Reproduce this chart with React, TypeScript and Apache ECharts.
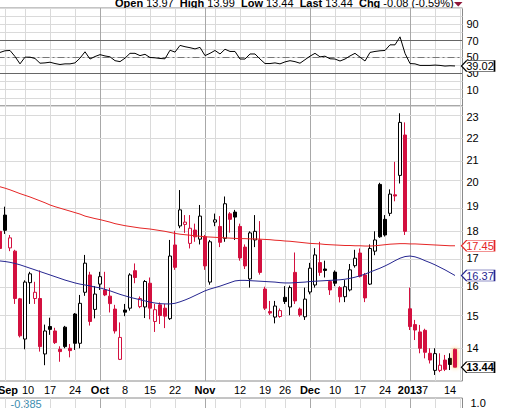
import React, { useEffect, useRef } from 'react';
import * as echarts from 'echarts';

// ---------- data ----------
const days = [
  '2012-08-31',
  '2012-09-04', '2012-09-05', '2012-09-06', '2012-09-07',
  '2012-09-10', '2012-09-11', '2012-09-12', '2012-09-13', '2012-09-14',
  '2012-09-17', '2012-09-18', '2012-09-19', '2012-09-20', '2012-09-21',
  '2012-09-24', '2012-09-25', '2012-09-26', '2012-09-27', '2012-09-28',
  '2012-10-01', '2012-10-02', '2012-10-03', '2012-10-04', '2012-10-05',
  '2012-10-08', '2012-10-09', '2012-10-10', '2012-10-11', '2012-10-12',
  '2012-10-15', '2012-10-16', '2012-10-17', '2012-10-18', '2012-10-19',
  '2012-10-22', '2012-10-23', '2012-10-24', '2012-10-25', '2012-10-26',
  '2012-10-31', '2012-11-01', '2012-11-02',
  '2012-11-05', '2012-11-06', '2012-11-07', '2012-11-08', '2012-11-09',
  '2012-11-12', '2012-11-13', '2012-11-14', '2012-11-15', '2012-11-16',
  '2012-11-19', '2012-11-20', '2012-11-21', '2012-11-23',
  '2012-11-26', '2012-11-27', '2012-11-28', '2012-11-29', '2012-11-30',
  '2012-12-03', '2012-12-04', '2012-12-05', '2012-12-06', '2012-12-07',
  '2012-12-10', '2012-12-11', '2012-12-12', '2012-12-13', '2012-12-14',
  '2012-12-17', '2012-12-18', '2012-12-19', '2012-12-20', '2012-12-21',
  '2012-12-24', '2012-12-26', '2012-12-27', '2012-12-28', '2012-12-31',
  '2013-01-02', '2013-01-03', '2013-01-04',
  '2013-01-07', '2013-01-08', '2013-01-09', '2013-01-10', '2013-01-11',
  '2013-01-14', '2013-01-15',
];
const nextDay = '2013-01-16';

const opens = [
  18.0, 18.64, 17.37, 17.25, 15.57, 14.28, 16.12, 15.58, 15.58, 13.83,
  14.67, 14.53, 13.97, 14.65, 14.0, 15.07, 14.15, 15.79, 16.39, 15.22,
  16.07, 15.87, 15.66, 15.23, 13.67, 15.2, 15.26, 16.54, 15.31, 15.3,
  16.1, 14.83, 15.37, 15.26, 14.92, 17.48, 18.21, 18.27, 17.54, 18.05,
  17.7, 17.79, 16.14, 18.36, 18.19, 17.73, 18.69, 18.76, 18.19, 17.4,
  16.25, 17.67, 17.67, 15.9, 15.15, 14.97, 14.99, 15.62, 15.3, 16.48,
  15.23, 14.98, 15.8, 16.04, 16.83, 16.6, 16.16, 16.49, 15.95, 15.64,
  15.87, 16.72, 17.18, 16.39, 16.07, 17.25, 19.91, 18.47, 18.71, 19.47,
  20.3, 22.14, 15.24, 14.73, 14.5, 14.55, 13.85, 13.35, 13.35, 13.65,
  13.7, 13.97,
];
const highs = [
  18.05, 18.98, 17.86, 17.3, 15.6, 16.2, 16.5, 16.15, 16.55, 14.73,
  14.95, 14.63, 14.06, 14.69, 14.13, 15.1, 15.7, 17.11, 16.5, 16.0,
  16.5, 16.5, 15.94, 15.37, 14.8, 15.4, 16.45, 16.8, 15.65, 16.21,
  16.3, 15.4, 15.45, 15.4, 17.67, 18.02, 19.67, 18.64, 18.64, 18.3,
  19.05, 17.86, 17.67, 18.7, 18.6, 19.4, 18.76, 18.85, 18.3, 17.5,
  18.0, 18.64, 18.4, 15.98, 15.5, 15.5, 15.25, 16.0, 16.02, 17.2,
  15.28, 15.95, 16.82, 17.36, 17.6, 16.9, 16.2, 16.55, 16.0, 16.21,
  16.78, 17.3, 17.35, 16.46, 17.5, 18.0, 19.98, 18.64, 19.7, 20.9,
  23.2, 22.75, 15.95, 14.88, 14.72, 14.6, 14.0, 14.0, 13.85, 13.8,
  13.85, 13.99,
];
const lows = [
  16.9, 17.9, 17.25, 15.4, 14.33, 13.97, 15.4, 15.4, 13.9, 13.5,
  14.41, 14.13, 13.6, 14.0, 13.73, 13.95, 14.0, 15.67, 14.7, 14.93,
  15.87, 15.66, 15.12, 14.45, 13.65, 15.0, 15.18, 16.1, 15.26, 14.94,
  14.9, 14.5, 14.75, 14.62, 14.88, 16.57, 18.12, 17.94, 17.35, 17.6,
  17.5, 16.57, 16.05, 18.2, 17.4, 17.6, 17.95, 17.67, 16.9, 16.6,
  15.95, 17.4, 16.4, 15.2, 15.04, 14.77, 14.95, 15.4, 15.03, 15.4,
  14.98, 14.88, 15.72, 15.95, 16.36, 16.3, 15.7, 16.0, 15.45, 15.46,
  15.82, 16.65, 16.3, 15.46, 16.04, 17.1, 17.75, 17.8, 18.6, 19.2,
  19.95, 17.86, 14.56, 14.25, 13.85, 13.7, 13.55, 13.22, 13.3, 13.33,
  13.36, 13.44,
];
const closes = [
  17.35, 18.04, 17.75, 15.58, 14.38, 16.14, 16.43, 15.79, 14.05, 14.53,
  14.58, 14.17, 13.9, 14.05, 13.93, 14.15, 15.42, 16.81, 14.83, 15.73,
  16.33, 15.7, 15.41, 14.53, 14.33, 15.13, 16.39, 16.3, 15.58, 16.16,
  15.26, 15.21, 15.02, 15.0, 17.07, 16.66, 18.85, 18.36, 18.12, 17.79,
  18.6, 16.71, 17.6, 18.45, 17.58, 19.1, 18.47, 18.56, 17.0, 16.71,
  17.94, 18.0, 16.48, 15.26, 15.1, 15.33, 15.18, 15.48, 15.95, 15.5,
  15.04, 15.56, 16.63, 17.11, 16.48, 16.55, 15.87, 16.1, 15.64, 15.98,
  16.57, 16.99, 16.34, 15.6, 17.35, 17.67, 17.79, 17.86, 19.5, 19.42,
  22.75, 18.0, 14.67, 14.56, 14.0, 13.88, 13.65, 13.84, 13.5, 13.38,
  13.52, 13.44,
];
const closeBeforeFirst = 17.9;

const ma200 = [
  19.81, 19.75, 19.68, 19.6, 19.52, 19.45, 19.38, 19.3, 19.22, 19.14,
  19.05, 18.98, 18.92, 18.86, 18.8, 18.74, 18.68, 18.6, 18.55, 18.5,
  18.46, 18.41, 18.36, 18.3, 18.26, 18.22, 18.19, 18.16, 18.13, 18.11,
  18.09, 18.06, 18.03, 18.0, 17.96, 17.92, 17.89, 17.87, 17.85, 17.83,
  17.81, 17.79, 17.78, 17.77, 17.76, 17.75, 17.74, 17.73, 17.72, 17.72,
  17.71, 17.71, 17.7, 17.69, 17.68, 17.66, 17.65, 17.63, 17.62, 17.6,
  17.58, 17.56, 17.54, 17.53, 17.52, 17.5, 17.49, 17.48, 17.47, 17.46,
  17.46, 17.45, 17.45, 17.44, 17.44, 17.45, 17.47, 17.49, 17.51, 17.52,
  17.53, 17.53, 17.52, 17.52, 17.51, 17.5, 17.49, 17.48, 17.47, 17.46,
  17.45, 17.45,
];
const ma50 = [
  16.89, 16.87, 16.84, 16.8, 16.75, 16.69, 16.63, 16.57, 16.51, 16.45,
  16.39, 16.33, 16.27, 16.21, 16.16, 16.11, 16.07, 16.04, 16.01, 15.97,
  15.94, 15.89, 15.84, 15.78, 15.72, 15.67, 15.62, 15.58, 15.54, 15.5,
  15.46, 15.43, 15.41, 15.4, 15.4, 15.42, 15.47, 15.53, 15.6, 15.68,
  15.76, 15.84, 15.9, 15.95, 16.0, 16.06, 16.12, 16.18, 16.2, 16.2,
  16.19, 16.18, 16.17, 16.16, 16.15, 16.14, 16.12, 16.11, 16.11, 16.12,
  16.13, 16.14, 16.16, 16.17, 16.18, 16.19, 16.2, 16.21, 16.22, 16.24,
  16.27, 16.31, 16.36, 16.42, 16.49, 16.56, 16.63, 16.71, 16.8, 16.9,
  16.99, 17.05, 17.07, 17.04, 16.98, 16.9, 16.83, 16.75, 16.66, 16.57,
  16.47, 16.37,
];
const rsi = [
  55.6, 57.6, 58.0, 50.6, 41.6, 49.8, 49.8, 48.2, 42.4, 42.8,
  43.6, 42.0, 40.8, 41.6, 41.6, 42.8, 48.6, 56.4, 47.5, 50.6,
  52.9, 51.3, 50.2, 45.5, 44.3, 48.6, 54.5, 54.5, 51.7, 53.3,
  49.4, 49.0, 48.2, 47.8, 58.3, 56.0, 64.2, 62.6, 61.4, 59.9,
  61.8, 51.7, 54.5, 58.0, 53.7, 59.5, 56.8, 56.8, 47.5, 47.5,
  53.7, 53.7, 47.5, 42.0, 42.0, 42.8, 41.6, 44.0, 45.5, 44.3,
  42.4, 46.7, 51.0, 54.5, 50.2, 51.0, 47.8, 47.5, 45.1, 47.5,
  51.3, 54.5, 49.8, 45.1, 55.6, 56.8, 57.6, 58.0, 64.9, 64.9,
  74.7, 54.5, 42.0, 41.6, 39.7, 39.7, 39.7, 40.1, 39.7, 38.9,
  39.3, 39.02,
];

const xTickDays = [
  '2012-09-04', '2012-09-10', '2012-09-17', '2012-09-24', '2012-10-01', '2012-10-08',
  '2012-10-15', '2012-10-22', '2012-11-01', '2012-11-12', '2012-11-19', '2012-11-26',
  '2012-12-03', '2012-12-10', '2012-12-17', '2012-12-24', '2013-01-02', '2013-01-07',
  '2013-01-14',
];
const xTickTexts = [
  'Sep', '10', '17', '24', 'Oct', '8', '15', '22', 'Nov', '12', '19', '26',
  'Dec', '10', '17', '24', '2013', '7', '14',
];
const boldTickTexts = ['Sep', 'Oct', 'Nov', 'Dec', '2013'];
const xGridDays = [
  '2012-09-04', '2012-09-10', '2012-09-17', '2012-09-24', '2012-10-01', '2012-10-08',
  '2012-10-15', '2012-10-22', '2012-11-01', '2012-11-05', '2012-11-12', '2012-11-19',
  '2012-11-26', '2012-12-03', '2012-12-10', '2012-12-17', '2012-12-24', '2013-01-02',
  '2013-01-09', '2013-01-16',
];
const monthStartDays = ['2012-10-01', '2012-11-01', '2012-12-03', '2013-01-02'];
const priceTicks = [14, 15, 16, 17, 18, 19, 20, 21, 22, 23];
const rsiTicks = [10, 30, 50, 70, 90];
const rsiLevels = [70, 50, 30];
const lowerTicks = [1.0];
const lowerLegendValue = -0.385;

// ---------- styles ----------
const FONT = '"Liberation Sans", Arial, Helvetica, sans-serif';
const CANDLE_RED = '#d3103f';
const MA_RED = '#e52626';
const MA_BLUE = '#262690';
const GRID_LIGHT = '#dadada';
const GRID_DARK = '#a8a8a8';
const BORDER = '#8a8a8a';
const TAG_PATH = 'path://M0,5L5,0L32,0L32,10L5,10Z';

export default function App() {
  const ref = useRef<HTMLDivElement>(null);

  useEffect(() => {
    if (!ref.current) return;
    const chart = echarts.init(ref.current, null, { renderer: 'svg' });
    const ln = Math.log;
    const n = days.length;
    const cats = [...days, nextDay];
    const idx = (d: string) => cats.indexOf(d);

    const labelByIdx: Record<number, string> = {};
    xTickDays.forEach((d, i) => { labelByIdx[idx(d)] = xTickTexts[i]; });
    const firstTwoIdx = [idx(xTickDays[0]), idx(xTickDays[1])];
    const monthIdx = monthStartDays.map(idx);

    const candleData = days.map((_, i) => {
      const o = opens[i];
      const c = closes[i];
      const pc = i === 0 ? closeBeforeFirst : closes[i - 1];
      const col = c >= pc ? '#000000' : CANDLE_RED;
      const fill = c > o ? '#ffffff' : col;
      const itemStyle: any = { color: fill, color0: fill, borderColor: col, borderColor0: col, borderWidth: 1 };
      if (i === n - 1) {
        itemStyle.shadowBlur = 4;
        itemStyle.shadowColor = 'rgba(255,175,50,0.95)';
      }
      return { value: [ln(o), ln(c), ln(lows[i]), ln(highs[i])], itemStyle };
    });

    const vLines = xGridDays.map((d) => {
      const k = idx(d);
      return { xAxis: k, lineStyle: { color: monthIdx.includes(k) ? GRID_DARK : GRID_LIGHT, width: 1, type: 'solid' } };
    });
    const baseMarkLine = {
      silent: true,
      symbol: ['none', 'none'],
      label: { show: false },
      z: 1,
      animation: false,
      emphasis: { disabled: true },
    };

    const priceMin = ln(13.049);
    const priceMax = ln(23.565);
    const gridBase = {
      left: -2.5,
      width: 465,
      show: true,
      borderColor: BORDER,
      borderWidth: 1,
      backgroundColor: 'transparent',
      containLabel: false,
      outerBoundsMode: 'none',
    };

    const tag = (value: number, yVal: number, color: string, bold: boolean) => ({
      symbol: TAG_PATH,
      symbolSize: [33, 11],
      symbolOffset: [23, 0],
      silent: true,
      animation: false,
      itemStyle: { color: '#ffffff', borderColor: color, borderWidth: 1 },
      label: {
        show: true,
        position: 'inside',
        offset: [2, 0],
        color,
        fontSize: 11,
        fontWeight: bold ? 'bold' : 'normal',
        fontFamily: FONT,
        formatter: value.toFixed(2),
      },
      data: [{ coord: [n - 1, yVal] }],
    });

    const chg = closes[n - 1] - closes[n - 2];
    const chgPct = (chg / closes[n - 2]) * 100;
    const headerText =
      `{b|Open} ${opens[n - 1].toFixed(2)}  {b|High} ${highs[n - 1].toFixed(2)}  ` +
      `{b|Low} ${lows[n - 1].toFixed(2)}  {b|Last} ${closes[n - 1].toFixed(2)}  ` +
      `{b|Chg} ${chg.toFixed(2)} (${chgPct.toFixed(2)}%)`;

    const lbl = { fontSize: 11, fontFamily: FONT, color: '#000' };
    const hiddenCat = (gridIndex: number, showLabels: boolean) => ({
      type: 'category',
      gridIndex,
      data: cats,
      boundaryGap: true,
      axisLine: { show: false },
      axisTick: { show: false },
      splitLine: { show: false },
      axisLabel: showLabels
        ? {
            show: true,
            interval: 0,
            margin: 3,
            ...lbl,
            hideOverlap: false,
            formatter: (_v: string, i: number) => {
              const t = labelByIdx[i];
              if (!t) return '';
              const bold = boldTickTexts.includes(t);
              const shifted = firstTwoIdx.includes(i);
              const key = (bold ? 'b' : 'n') + (shifted ? 's' : '');
              return `{${key}|${t}}`;
            },
            rich: {
              b: { ...lbl, fontWeight: 'bold' },
              n: { ...lbl },
              bs: { ...lbl, fontWeight: 'bold', padding: [0, 0, 0, 6] },
              ns: { ...lbl, padding: [0, 0, 0, 6] },
            },
          }
        : { show: false },
    });

    const option: any = {
      animation: false,
      backgroundColor: '#ffffff',
      textStyle: { fontFamily: FONT },
      grid: [
        { ...gridBase, top: 8, height: 98 },
        { ...gridBase, top: 106, height: 275 },
        { ...gridBase, top: 398, height: 60 },
      ],
      xAxis: [hiddenCat(0, false), hiddenCat(1, true), hiddenCat(2, false)],
      yAxis: [
        {
          type: 'value', gridIndex: 0, position: 'right', min: -10, max: 110, interval: 10,
          axisLine: { show: false }, axisTick: { show: false },
          splitLine: { show: true, lineStyle: { color: GRID_LIGHT, width: 1 } },
          axisLabel: {
            margin: 4, ...lbl,
            formatter: (v: number) => (rsiTicks.includes(Math.round(v)) ? String(Math.round(v)) : ''),
          },
        },
        {
          type: 'value', gridIndex: 1, position: 'right', min: priceMin, max: priceMax,
          axisLine: { show: false }, axisTick: { show: false }, splitLine: { show: false },
          axisLabel: {
            margin: 4, ...lbl,
            customValues: priceTicks.map(ln),
            formatter: (v: number) => String(Math.round(Math.exp(v))),
          },
        },
        {
          type: 'value', gridIndex: 2, position: 'right', min: 0, max: 1.1, interval: 0.5,
          axisLine: { show: false }, axisTick: { show: false }, splitLine: { show: false },
          axisLabel: {
            margin: 8, ...lbl,
            formatter: (v: number) => (lowerTicks.some((t) => Math.abs(t - v) < 1e-9) ? v.toFixed(1) : ''),
          },
        },
      ],
      series: [
        {
          name: 'RSI',
          type: 'line',
          xAxisIndex: 0, yAxisIndex: 0,
          data: rsi,
          symbol: 'none',
          z: 3,
          lineStyle: { color: '#000', width: 1 },
          markLine: {
            ...baseMarkLine,
            data: [
              ...vLines,
              ...rsiLevels.map((v) => ({
                yAxis: v,
                lineStyle: v === 50
                  ? { color: '#777', width: 1, type: [7, 3, 2, 3] }
                  : { color: '#666', width: 1, type: 'solid' },
              })),
            ],
          },
          markPoint: tag(rsi[n - 1], rsi[n - 1], '#000', false),
        },
        {
          name: 'Price',
          type: 'candlestick',
          xAxisIndex: 1, yAxisIndex: 1,
          barWidth: 4,
          z: 2,
          data: candleData,
          markPoint: tag(closes[n - 1], ln(closes[n - 1]), '#000', true),
        },
        {
          name: 'MA long',
          type: 'line',
          xAxisIndex: 1, yAxisIndex: 1,
          data: ma200.map(ln),
          symbol: 'none',
          z: 3,
          lineStyle: { color: MA_RED, width: 1 },
          markLine: {
            ...baseMarkLine,
            data: [
              ...vLines,
              ...priceTicks.map((p) => ({ yAxis: ln(p), lineStyle: { color: GRID_LIGHT, width: 1, type: 'solid' } })),
            ],
          },
          markPoint: tag(ma200[n - 1], ln(ma200[n - 1]), MA_RED, false),
        },
        {
          name: 'MA short',
          type: 'line',
          xAxisIndex: 1, yAxisIndex: 1,
          data: ma50.map(ln),
          symbol: 'none',
          z: 3,
          lineStyle: { color: MA_BLUE, width: 1 },
          markPoint: tag(ma50[n - 1], ln(ma50[n - 1]), MA_BLUE, false),
        },
        {
          name: 'Lower',
          type: 'line',
          xAxisIndex: 2, yAxisIndex: 2,
          data: days.map(() => null),
          symbol: 'none',
          markLine: { ...baseMarkLine, data: vLines },
        },
      ],
      graphic: [
        {
          type: 'text',
          x: 115,
          y: 3,
          silent: true,
          style: {
            text: headerText,
            fontSize: 11,
            fontFamily: FONT,
            fill: '#000',
            verticalAlign: 'middle',
            align: 'left',
            rich: { b: { fontSize: 11, fontWeight: 'bold', fontFamily: FONT, fill: '#000' } },
          },
        },
        {
          type: 'polygon',
          silent: true,
          shape: { points: [[454, 2], [462.5, 2], [458.25, 6.5]] },
          style: { fill: '#8e1537' },
        },
        {
          type: 'text',
          x: 10.5,
          y: 403.5,
          silent: true,
          style: {
            text: lowerLegendValue.toFixed(3),
            fontSize: 11,
            fontFamily: FONT,
            fill: '#3d8db0',
            verticalAlign: 'middle',
            align: 'left',
          },
        },
      ],
    };

    chart.setOption(option);
    return () => chart.dispose();
  }, []);

  return (
    <div
      ref={ref}
      style={{ position: 'fixed', left: 0, top: 0, width: 509, height: 408, background: '#fff' }}
    />
  );
}
